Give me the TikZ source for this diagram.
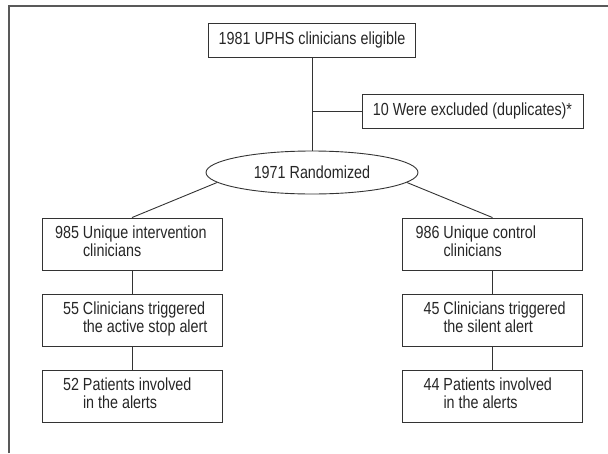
\documentclass[tikz,border=0pt]{standalone}
\usepackage{fontspec}
\setmainfont{Liberation Sans}[FakeStretch=0.82]
\usetikzlibrary{shapes.geometric}
\newcommand\twoline[3]{\makebox[180pt][l]{\hspace*{41pt}\begin{tabular}{@{}l@{}}\llap{#1\ }#2\\#3\end{tabular}}}
\begin{document}
\begin{tikzpicture}[x=1pt,y=-1pt,
  frame/.style={line width=1.6pt, draw=black!65},
  box/.style={draw=black!80, line width=0.9pt, inner sep=0pt, minimum height=52pt, text=black!85, font=\fontsize{17.5}{17}\selectfont},
  link/.style={draw=black!80, line width=0.9pt}]
\useasboundingbox (0,0) rectangle (608,453);
\draw[frame] (9,453) -- (9,5.7) -- (608,5.7);
\node[box, minimum width=207pt, minimum height=34pt] (top) at (312,40) {1981 UPHS clinicians eligible};
\node[box, minimum width=221pt, minimum height=34pt] (excl) at (472.5,111) {10 Were excluded (duplicates)*};
\node[box, ellipse, minimum width=212pt, minimum height=43pt] (rand) at (312,172.5) {1971 Randomized};
\node[box] (i1) at (132,244) {\twoline{985}{Unique intervention}{clinicians}};
\node[box] (i2) at (132,320) {\twoline{55}{Clinicians triggered}{the active stop alert}};
\node[box] (i3) at (132,396) {\twoline{52}{Patients involved}{in the alerts}};
\node[box] (c1) at (492.5,244) {\twoline{986}{Unique control}{clinicians}};
\node[box] (c2) at (492.5,320) {\twoline{45}{Clinicians triggered}{the silent alert}};
\node[box] (c3) at (492.5,396) {\twoline{44}{Patients involved}{in the alerts}};
\draw[link] (top) -- (rand);
\draw[link] (excl.west) -- (excl.west -| top.south);
\draw[link] (rand.186) -- (i1.north);
\draw[link] (rand.354) -- (c1.north);
\draw[link] (i1) -- (i2);
\draw[link] (i2) -- (i3);
\draw[link] (c1) -- (c2);
\draw[link] (c2) -- (c3);
\end{tikzpicture}
\end{document}
